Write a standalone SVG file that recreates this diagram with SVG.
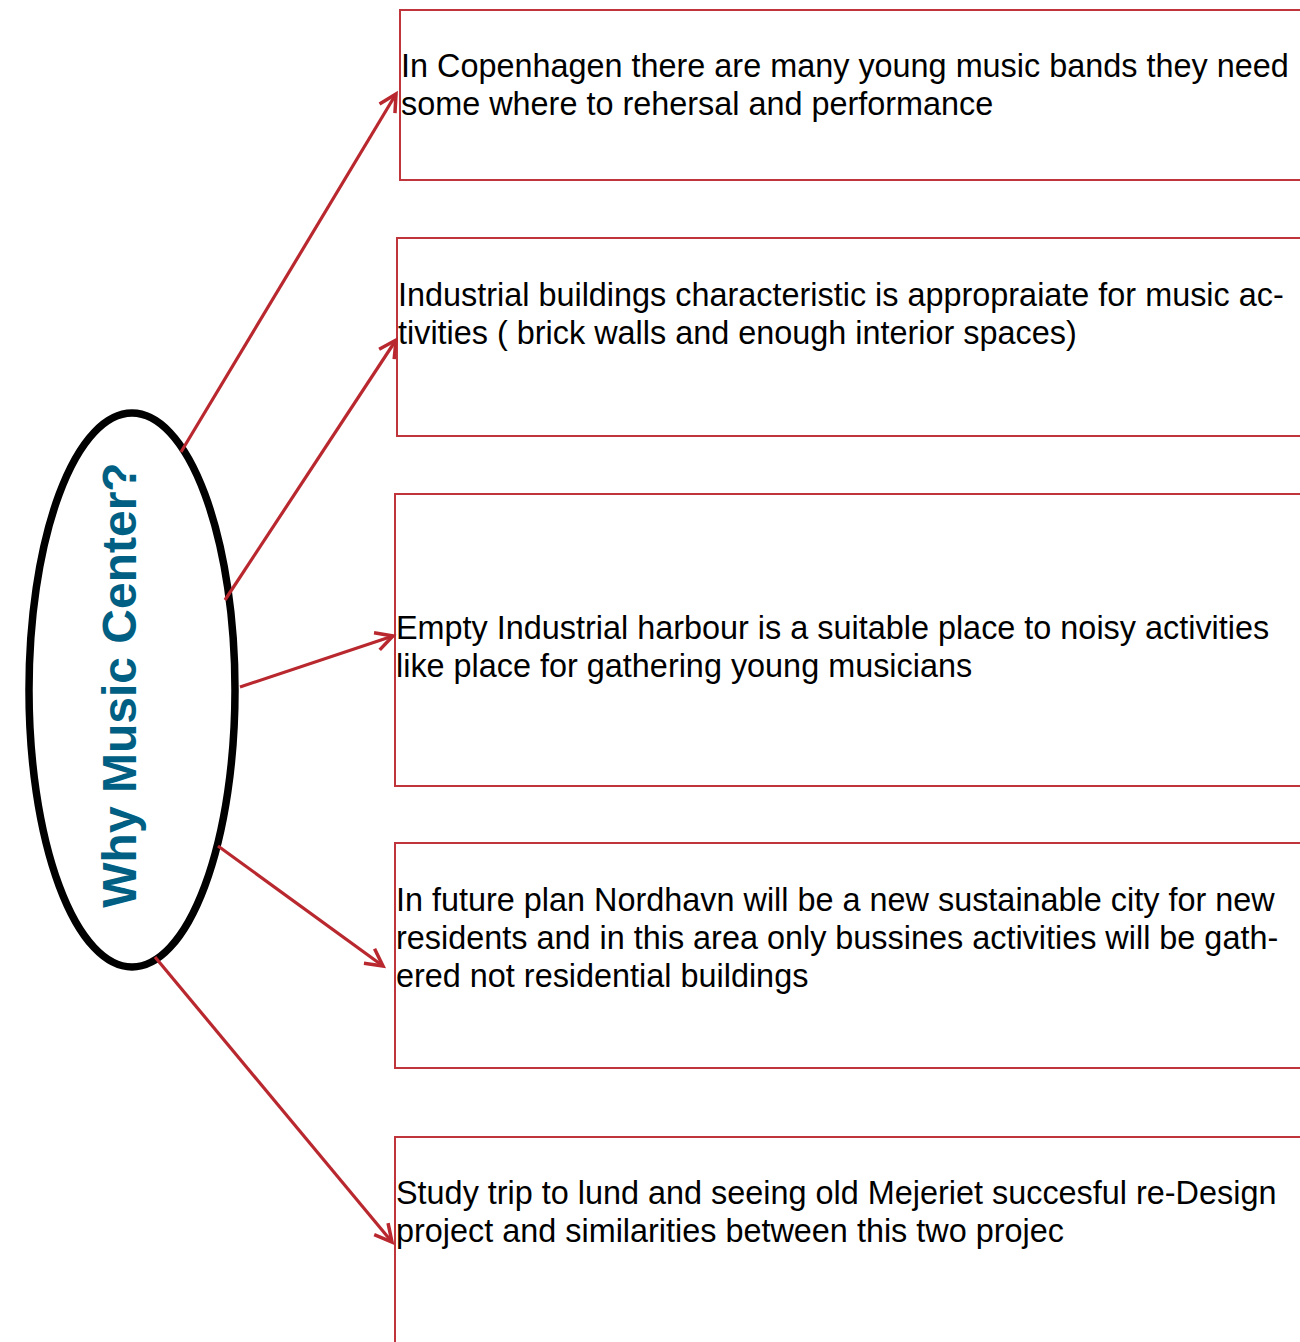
<svg xmlns="http://www.w3.org/2000/svg" width="1300" height="1342" viewBox="0 0 1300 1342">
<style>
.box{fill:#ffffff;stroke:#c0353c;stroke-width:2}
.t{font-family:"Liberation Sans",Arial,Helvetica,sans-serif;font-size:32.4px;fill:#000000}
.conn{stroke:#b8282e;stroke-width:3.2;fill:none;marker-end:url(#arr)}
.title{font-family:"Liberation Sans",Arial,Helvetica,sans-serif;font-size:48px;font-weight:bold;fill:#005f82}
</style>
<defs>
<marker id="arr" markerUnits="userSpaceOnUse" markerWidth="30" markerHeight="30" viewBox="-22 -15 30 30" refX="0" refY="0" orient="auto" overflow="visible">
<path d="M-17,-9 L0,0 L-17,9" fill="none" stroke="#b8282e" stroke-width="3.5"/>
</marker>
</defs>
<rect width="1300" height="1342" fill="#ffffff"/>
<g id="node-center">
<ellipse cx="132" cy="690" rx="103" ry="277" fill="#ffffff" stroke="#000000" stroke-width="7.5"/>
<text class="title" transform="translate(136,685) rotate(-90)" text-anchor="middle">Why Music Center?</text>
</g>
<g id="node-1">
<rect class="box" x="400" y="10" width="910" height="170"/>
<text class="t" x="401" y="77">In Copenhagen there are many young music bands they need</text>
<text class="t" x="401" y="115">some where to rehersal and performance</text>
</g>
<g id="node-2">
<rect class="box" x="397" y="238" width="913" height="198"/>
<text class="t" x="398" y="306">Industrial buildings characteristic is appropraiate for music ac-</text>
<text class="t" x="398" y="344">tivities ( brick walls and enough interior spaces)</text>
</g>
<g id="node-3">
<rect class="box" x="395" y="494" width="915" height="292"/>
<text class="t" x="396" y="639">Empty Industrial harbour is a suitable place to noisy activities</text>
<text class="t" x="396" y="677">like place for gathering young musicians</text>
</g>
<g id="node-4">
<rect class="box" x="395" y="843" width="915" height="225"/>
<text class="t" x="396" y="911">In future plan Nordhavn will be a new sustainable city for new</text>
<text class="t" x="396" y="949">residents and in this area only bussines activities will be gath-</text>
<text class="t" x="396" y="987">ered not residential buildings</text>
</g>
<g id="node-5">
<rect class="box" x="395" y="1137" width="915" height="220"/>
<text class="t" x="396" y="1204">Study trip to lund and seeing old Mejeriet succesful re-Design</text>
<text class="t" x="396" y="1242">project and similarities between this two projec</text>
</g>
<g id="connectors">
<line class="conn" x1="181" y1="452" x2="396" y2="94"/>
<line class="conn" x1="225" y1="600" x2="396" y2="340"/>
<line class="conn" x1="240" y1="687" x2="393" y2="636"/>
<line class="conn" x1="218" y1="846" x2="383" y2="966"/>
<line class="conn" x1="155" y1="957" x2="392" y2="1242"/>
</g>
</svg>
